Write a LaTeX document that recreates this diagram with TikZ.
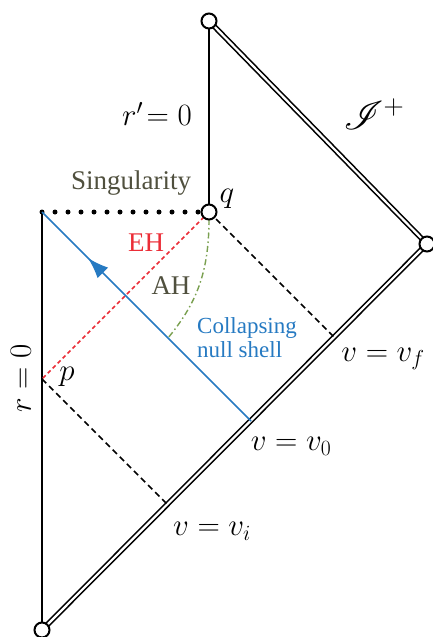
\RequirePackage{fix-cm}
\documentclass[tikz,border=0pt]{standalone}
\usepackage[no-math]{fontspec}
\newfontfamily\tnr{Liberation Serif}
\DeclareFontFamily{U}{rsfs}{\skewchar\font127 }
\DeclareFontShape{U}{rsfs}{m}{n}{<-> rsfs10}{}
\usepackage{mathrsfs}
\usetikzlibrary{arrows.meta,decorations.markings}
\definecolor{shellblue}{RGB}{38,122,194}
\definecolor{ehred}{RGB}{235,45,55}
\definecolor{ahgreen}{RGB}{122,160,80}
\definecolor{olivegray}{RGB}{80,80,62}
\tikzset{
  endpt/.style={circle,draw,line width=2pt,fill=white,minimum size=15pt,inner sep=0pt},
  dbl/.style={double,double distance=2.2pt,line width=1.6pt},
  plain/.style={line width=1.7pt},
  nulldash/.style={dashed,dash pattern=on 6pt off 4pt,line width=1.6pt},
  ehline/.style={ehred,dash pattern=on 4pt off 3pt,line width=1.6pt},
  ahline/.style={ahgreen,dash pattern=on 6pt off 3pt on 1.5pt off 3pt,line width=1.4pt},
  shell/.style={shellblue,line width=1.7pt,postaction={decorate},
    decoration={markings,mark=at position 0.78 with {\arrow{Latex[length=21pt,width=15pt]}}}},
  mlabel/.style={font=\fontsize{31}{35}\selectfont,inner sep=0pt},
  tlabel/.style={font=\tnr\fontsize{27}{30}\selectfont,inner sep=0pt},
  sdot/.style={circle,fill=black,minimum size=5pt,inner sep=0pt}
}
\begin{document}
\begin{tikzpicture}[x=1pt,y=-1pt]
\useasboundingbox (0,0) rectangle (432,637);
% key points
\coordinate (sing) at (42,212);
\coordinate (p) at (42,379);
\coordinate (v0) at (251,421);
\coordinate (vf) at (334.5,337.5);
\coordinate (vi) at (167.5,504.5);
\coordinate (ahend) at (168,338);
% singularity dots
\foreach \k in {0,...,12} \node[sdot] (d\k) at ({42+13*\k},212) {};
% lines (drawn under circles)
\draw[plain] (209,21) -- (209,212);
\draw[dbl] (209,21) -- (427,244);
\draw[dbl] (42,630) -- (427,244);
\draw[plain] (sing) -- (42,630);
\draw[nulldash] (209,212) -- (vf);
\draw[nulldash] (p) -- (vi);
\draw[ehline] (209,212) -- (p);
\draw[shell] (v0) -- (sing);
\draw[ahline] (209,219) .. controls (209,275) and (195,305) .. (ahend);
% end-point circles
\node[endpt] (top) at (209,21) {};
\node[endpt] (q) at (209,212) {};
\node[endpt] (izero) at (427,244) {};
\node[endpt] (bot) at (42,630) {};
% labels
\node[mlabel] (lrp) at (157,114) {$r'\!=0$};
\node[font=\fontsize{40}{44}\selectfont,inner sep=0pt] (lscri) at (374,114) {$\mathscr{I}^+$};
\node[tlabel,text=olivegray] (lsing) at (131,183) {Singularity};
\node[mlabel] (lq) at (227,199) {$q$};
\node[tlabel,text=ehred] (leh) at (146,243) {EH};
\node[tlabel,text=olivegray] (lah) at (171,286) {AH};
\node[font=\tnr\fontsize{23}{24}\selectfont,text=shellblue,align=left,inner sep=0pt,anchor=west] (lshell) at (197,338) {Collapsing\\null shell};
\node[mlabel] (lvf) at (383,359) {$v=v_f$};
\node[mlabel] (lp) at (67,377) {$p$};
\node[mlabel,rotate=90] (lr) at (21,378) {$r=0$};
\node[mlabel] (lv0) at (291,446) {$v=v_0$};
\node[mlabel] (lvi) at (212,531) {$v=v_i$};
\end{tikzpicture}
\end{document}
